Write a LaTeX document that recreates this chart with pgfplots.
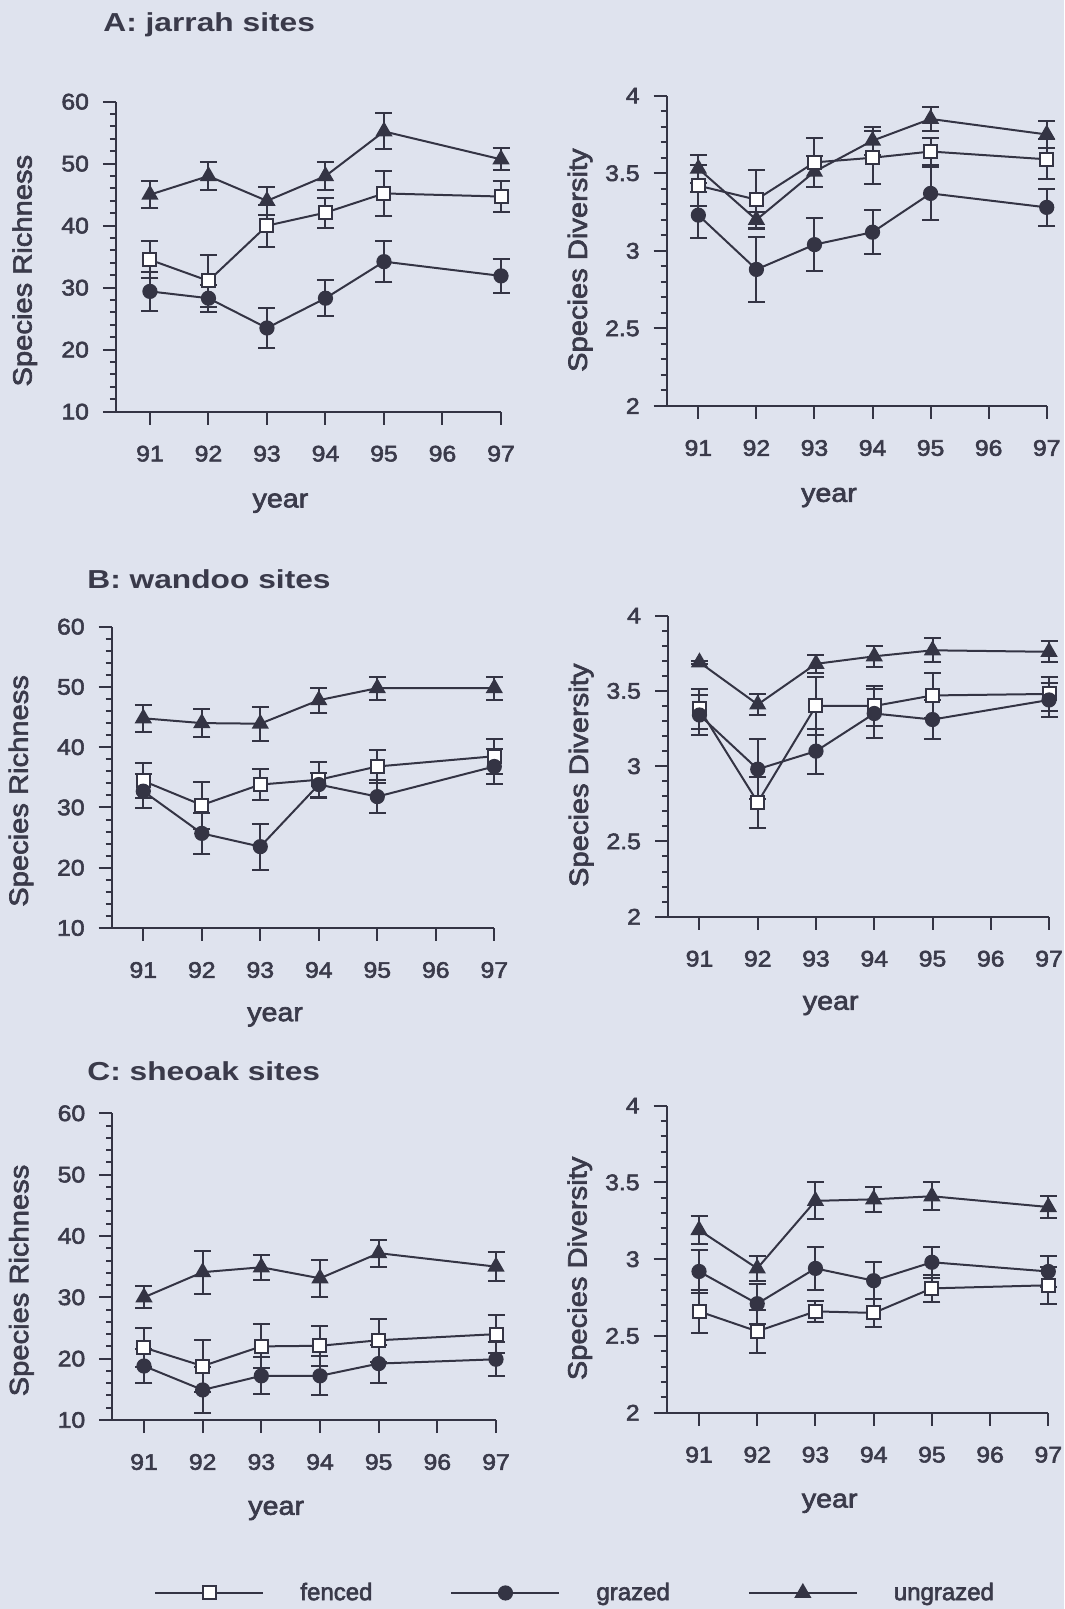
\documentclass[border=0pt]{standalone}
\usepackage{pgfplots}
\pgfplotsset{compat=1.18}
\usepackage{fontspec}
\setmainfont{Liberation Sans}[FakeStretch=1.1, FakeBold=2.5]
\newfontfamily\titlefont{Liberation Sans}[FakeStretch=1.22]
\newfontfamily\legfont{Liberation Sans}[FakeBold=2.5]
\definecolor{bg}{RGB}{223,227,238}
\definecolor{dk}{RGB}{52,52,68}
\definecolor{txt}{RGB}{58,58,74}
\pgfplotsset{
 panel/.style={
   scale only axis, anchor=south west, clip=false,
   axis x line*=bottom, axis y line*=left,
   axis line style={-, dk, line width=1pt},
   tick align=outside,
   major tick length=6.5pt, minor tick length=3pt,
   every tick/.style={dk, line width=1pt},
   xtick={91,...,97}, xmax=97,
   minor x tick num=0,
   /pgf/number format/assume math mode=true,
   tick label style={font=\fontsize{11.25}{13}\selectfont, text=txt},
   xticklabel style={yshift=-7pt},
   yticklabel style={xshift=-3.5pt},
   xlabel={year},
   xlabel style={at={(axis description cs:0.427,-0.295)}, anchor=center, font=\fontsize{13}{15}\selectfont, text=txt},
   ylabel style={anchor=center, font=\fontsize{13.25}{15}\selectfont, text=txt},
 },
 rich/.style={panel, ymin=10, ymax=60, ytick={10,20,...,60}, minor y tick num=4, ylabel={Species Richness}, ylabel style={at={(axis description cs:-0.237,0.455)}}},
 div/.style={panel, ymin=2, ymax=4, ytick={2,2.5,...,4}, minor y tick num=4, ylabel={Species Diversity}, ylabel style={at={(axis description cs:-0.228,0.47)}}},
 eb/.style={dk, line width=1pt, error bars/y dir=both, error bars/y explicit, error bars/error bar style={line width=1pt, dk}, error bars/error mark options={rotate=90, mark size=4.25pt, line width=1pt, dk}},
 fen/.style={eb, mark=square*, mark size=3.25pt, mark options={fill=white, draw=dk, line width=1pt}},
 gra/.style={eb, mark=*, mark size=3.3pt, mark options={fill=dk, draw=dk}},
 ung/.style={eb, mark=triangle*, mark size=4pt, mark options={fill=dk, draw=dk}},
}
\begin{document}
\begin{tikzpicture}
\path[use as bounding box, fill=bg] (0,0) rectangle (532pt,804.5pt);

\node[anchor=base west, inner sep=0pt, font=\titlefont\bfseries\fontsize{13}{15}\selectfont, text=txt] at (51.5pt,788.5pt) {A: jarrah sites};
\node[anchor=base west, inner sep=0pt, font=\titlefont\bfseries\fontsize{13}{15}\selectfont, text=txt] at (43.5pt,510pt) {B: wandoo sites};
\node[anchor=base west, inner sep=0pt, font=\titlefont\bfseries\fontsize{13}{15}\selectfont, text=txt] at (43.5pt,264pt) {C: sheoak sites};

% A left
\begin{axis}[rich, at={(58pt,598.65pt)}, width=192.5pt, height=155pt, xmin=90.42]
\addplot[ung] coordinates {(91,45) +- (0,2.2) (92,48) +- (0,2.2) (93,44) +- (0,2.3) (94,48) +- (0,2.2) (95,55.2) +- (0,2.9) (97,50.7) +- (0,1.8)};
\addplot[fen] coordinates {(91,34.5) +- (0,3.0) (92,31.1) +- (0,4.2) (93,40) +- (0,3.4) (94,42.1) +- (0,2.4) (95,45.2) +- (0,3.6) (97,44.7) +- (0,2.5)};
\addplot[gra] coordinates {(91,29.4) +- (0,3.2) (92,28.3) +- (0,2.2) (93,23.5) +- (0,3.3) (94,28.3) +- (0,2.9) (95,34.2) +- (0,3.3) (97,31.9) +- (0,2.8)};
\end{axis}

% A right
\begin{axis}[div, at={(333.35pt,601.5pt)}, width=190pt, height=155.15pt, xmin=90.455]
\addplot[ung] coordinates {(91,3.53) +- (0,0.09) (92,3.2) +- (0,0.05) (93,3.51) +- (0,0.1) (94,3.71) +- (0,0.09) (95,3.85) +- (0,0.08) (97,3.75) +- (0,0.09)};
\addplot[fen] coordinates {(91,3.42) +- (0,0.13) (92,3.33) +- (0,0.19) (93,3.57) +- (0,0.16) (94,3.6) +- (0,0.17) (95,3.64) +- (0,0.09) (97,3.59) +- (0,0.13)};
\addplot[gra] coordinates {(91,3.23) +- (0,0.15) (92,2.88) +- (0,0.21) (93,3.04) +- (0,0.17) (94,3.12) +- (0,0.14) (95,3.37) +- (0,0.17) (97,3.28) +- (0,0.12)};
\end{axis}

% B left
\begin{axis}[rich, at={(55.85pt,340.5pt)}, width=191.3pt, height=150.65pt, xmin=90.46]
\addplot[ung] coordinates {(91,44.8) +- (0,2.2) (92,44) +- (0,2.3) (93,43.9) +- (0,2.8) (94,47.8) +- (0,2.1) (95,49.8) +- (0,1.9) (97,49.8) +- (0,1.9)};
\addplot[fen] coordinates {(91,34.4) +- (0,2.9) (92,30.4) +- (0,3.9) (93,33.8) +- (0,2.6) (94,34.6) +- (0,3) (95,36.8) +- (0,2.8) (97,38.5) +- (0,2.9)};
\addplot[gra] coordinates {(91,32.7) +- (0,2.8) (92,25.7) +- (0,3.4) (93,23.5) +- (0,3.8) (94,33.8) +- (0,2) (95,31.8) +- (0,2.8) (97,36.8) +- (0,2.9)};
\end{axis}

% B right
\begin{axis}[div, at={(334pt,346.15pt)}, width=190.5pt, height=150.5pt, xmin=90.46]
\addplot[ung] coordinates {(91,3.69) +- (0,0.01) (92,3.41) +- (0,0.07) (93,3.68) +- (0,0.06) (94,3.73) +- (0,0.07) (95,3.77) +- (0,0.08) (97,3.76) +- (0,0.07)};
\addplot[fen] coordinates {(91,3.38) +- (0,0.13) (92,2.76) +- (0,0.17) (93,3.4) +- (0,0.19) (94,3.4) +- (0,0.13) (95,3.47) +- (0,0.15) (97,3.48) +- (0,0.11)};
\addplot[gra] coordinates {(91,3.34) +- (0,0.13) (92,2.98) +- (0,0.2) (93,3.1) +- (0,0.15) (94,3.35) +- (0,0.16) (95,3.31) +- (0,0.13) (97,3.44) +- (0,0.11)};
\end{axis}

% C left (with legend)
\begin{axis}[rich, at={(56.15pt,94.5pt)}, width=191.85pt, height=153.35pt, xmin=90.46,
  legend columns=3,
  legend image code/.code={\draw[mark repeat=2,mark phase=2,#1] plot coordinates {(0pt,0pt) (27pt,0pt) (54pt,0pt)};},
  legend style={at={(axis description cs:0.1087,-0.564)}, anchor=west, draw=none, fill=none, inner sep=0pt,
    font=\legfont\fontsize{12}{14}\selectfont, text=txt,
    /tikz/every odd column/.append style={column sep=16pt},
    /tikz/every even column/.append style={column sep=37pt}}]
\addplot[fen] coordinates {(91,21.8) +- (0,3.2) (92,18.8) +- (0,4.2) (93,22) +- (0,3.6) (94,22.1) +- (0,3.3) (95,23) +- (0,3.5) (97,24) +- (0,3.1)};
\addlegendentry{fenced}
\addplot[gra] coordinates {(91,18.8) +- (0,2.8) (92,14.9) +- (0,3.8) (93,17.2) +- (0,3) (94,17.2) +- (0,3.2) (95,19.2) +- (0,3.1) (97,19.9) +- (0,2.8)};
\addlegendentry{grazed}
\addplot[ung] coordinates {(91,30) +- (0,1.8) (92,34.1) +- (0,3.5) (93,34.9) +- (0,2) (94,33.1) +- (0,3) (95,37.2) +- (0,2.2) (97,35) +- (0,2.4)};
\addlegendentry{ungrazed}
\end{axis}

% C right
\begin{axis}[div, at={(333.35pt,98.15pt)}, width=190.8pt, height=153.5pt, xmin=90.445]
\addplot[ung] coordinates {(91,3.19) +- (0,0.09) (92,2.94) +- (0,0.08) (93,3.38) +- (0,0.12) (94,3.39) +- (0,0.08) (95,3.41) +- (0,0.09) (97,3.34) +- (0,0.07)};
\addplot[gra] coordinates {(91,2.92) +- (0,0.14) (92,2.71) +- (0,0.13) (93,2.94) +- (0,0.14) (94,2.86) +- (0,0.12) (95,2.98) +- (0,0.1) (97,2.92) +- (0,0.1)};
\addplot[fen] coordinates {(91,2.66) +- (0,0.14) (92,2.53) +- (0,0.14) (93,2.66) +- (0,0.07) (94,2.65) +- (0,0.09) (95,2.81) +- (0,0.09) (97,2.83) +- (0,0.12)};
\end{axis}
\end{tikzpicture}
\end{document}
